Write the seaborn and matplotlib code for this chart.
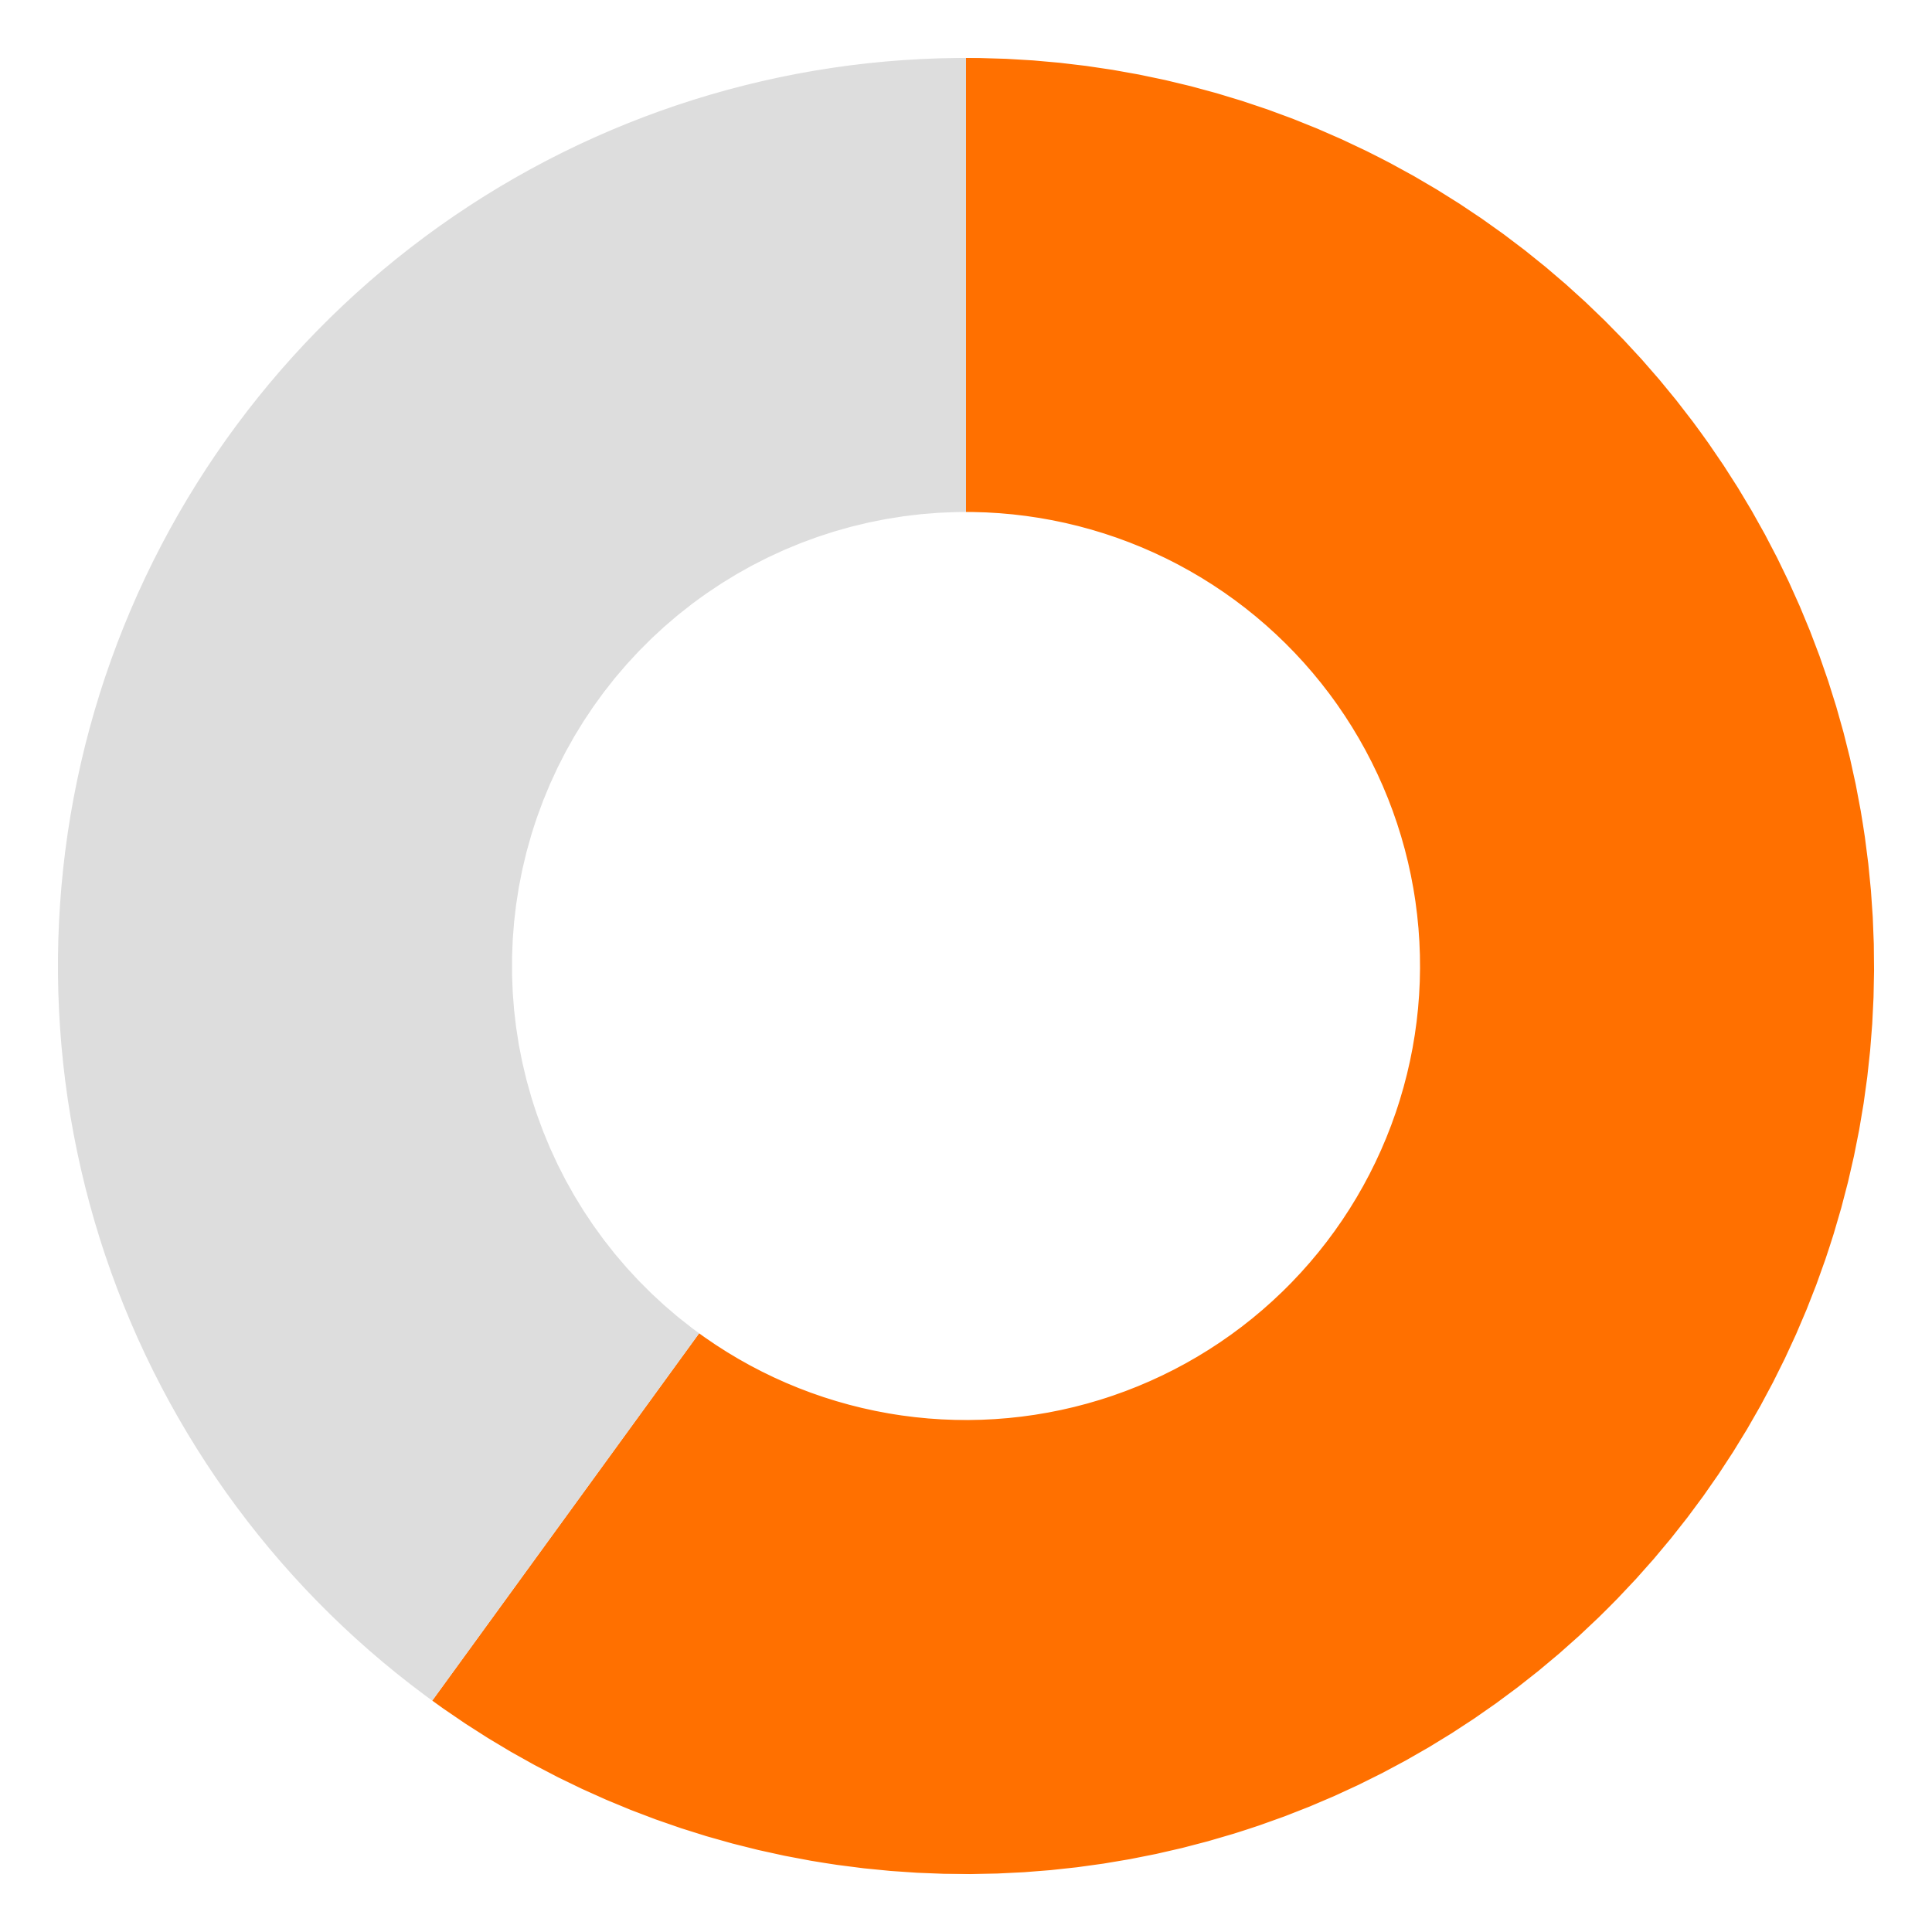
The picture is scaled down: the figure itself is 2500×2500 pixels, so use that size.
import numpy as np
import pandas as pd
import matplotlib
matplotlib.use("Agg")
import matplotlib.pyplot as plt
import seaborn as sns

# share of the ring: orange part vs the rest
labels = ["Value", "Rest"]
values = [60, 40]
colors = ["#FF7000", "#DDDDDD"]

sns.set_theme(style="white")

fig = plt.figure(figsize=(10, 10), dpi=250)
ax = fig.add_axes([0, 0, 1, 1])

# pie goes clockwise from 12 o'clock, hole = half of outer radius
ax.pie(values, colors=colors, startangle=90, counterclock=False,
       radius=0.94, wedgeprops=dict(width=0.47, edgecolor="none"))
ax.set_xlim(-1, 1)
ax.set_ylim(-1, 1)
ax.set_aspect("equal")
ax.axis("off")

fig.savefig("out.png", dpi=250, facecolor="white")
